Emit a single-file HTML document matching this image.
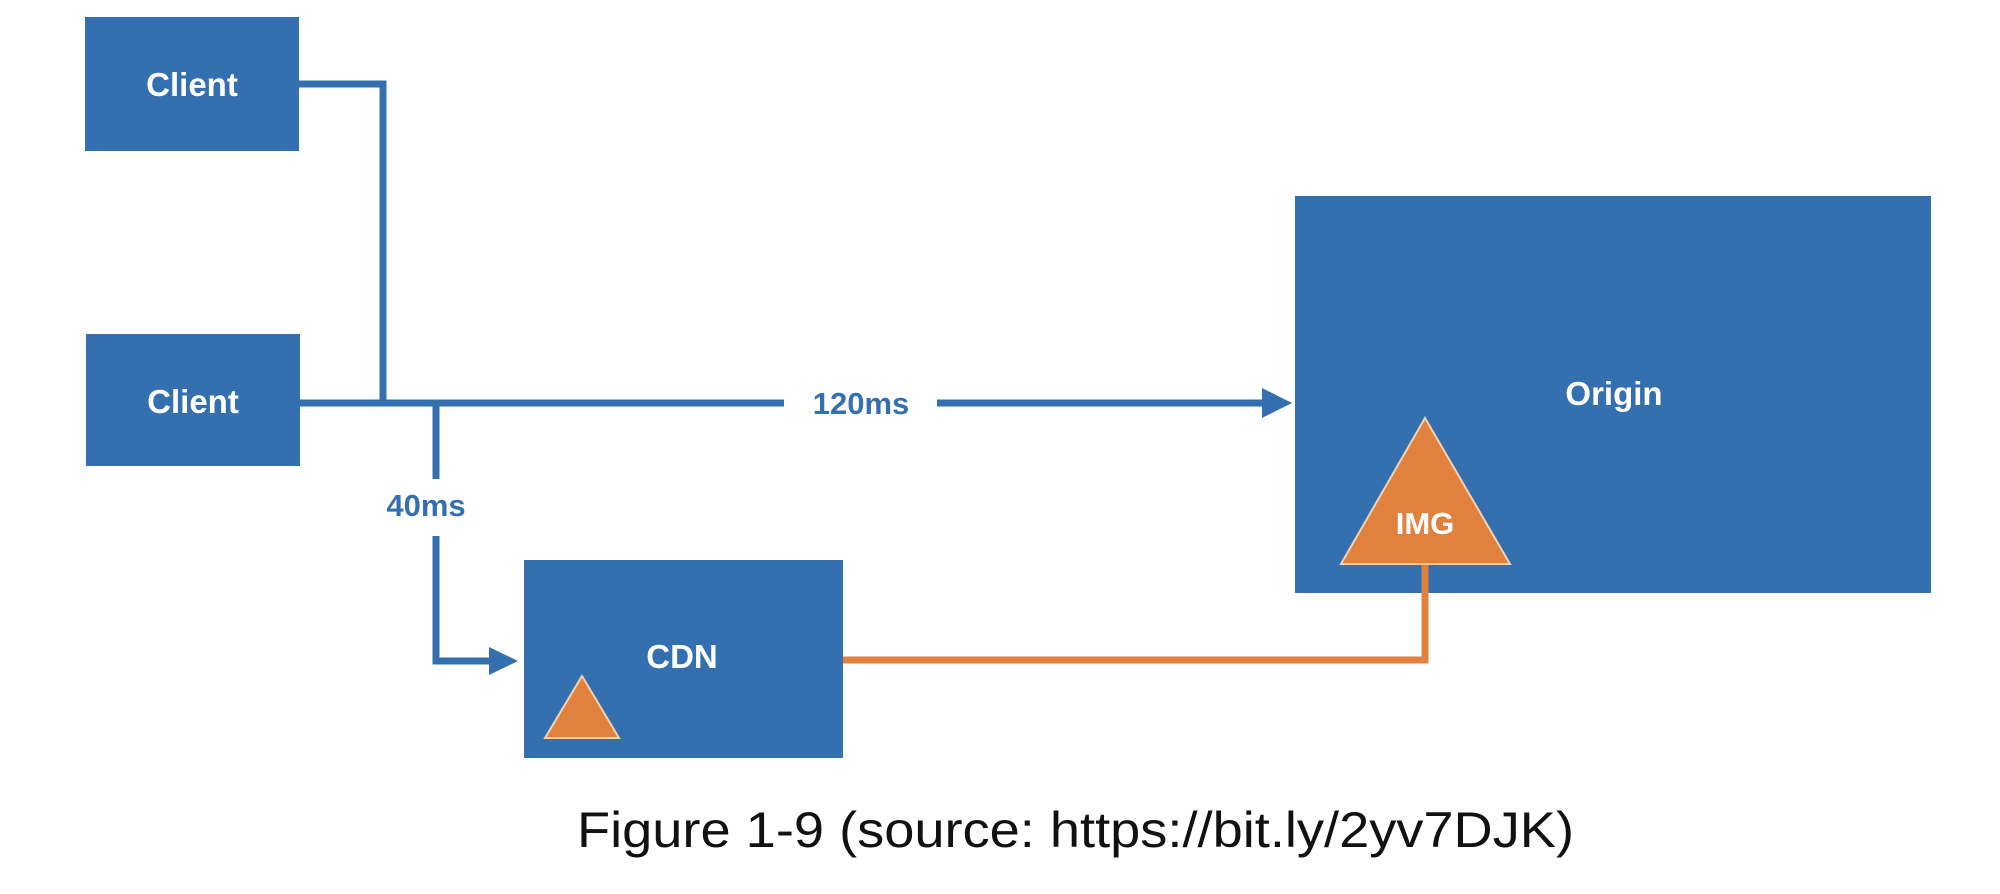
<!DOCTYPE html>
<html><head><meta charset="utf-8"><style>html,body{margin:0;padding:0;background:#fff;}svg{display:block}</style></head>
<body>
<svg width="2000" height="894" viewBox="0 0 2000 894" xmlns="http://www.w3.org/2000/svg">
<g fill="#3470b0">
<rect x="85" y="17" width="214" height="134"/>
<rect x="86" y="334" width="214" height="132"/>
<rect x="524" y="560" width="319" height="198"/>
<rect x="1295" y="196" width="636" height="397"/>
</g>
<g stroke="#3470b0" stroke-width="7" fill="none">
<polyline points="299,84 383,84 383,403"/>
<line x1="300" y1="403" x2="784" y2="403"/>
<line x1="937" y1="403" x2="1262" y2="403"/>
<line x1="436" y1="403" x2="436" y2="479"/>
<polyline points="436,536 436,661 492,661"/>
</g>
<polygon points="1262,388 1292,403 1262,418" fill="#3470b0"/>
<polygon points="489,647 518,661 489,675" fill="#3470b0"/>
<polyline points="843,660 1425,660 1425,560" stroke="#e0823e" stroke-width="7" fill="none"/>
<polygon points="1425,418 1510,564 1341,564" fill="#e0823e" stroke="#f3d0b0" stroke-width="2"/>
<polygon points="582,676 619,738 545,738" fill="#e0823e" stroke="#f3d0b0" stroke-width="2"/>
<g font-family="Liberation Sans, sans-serif" font-weight="bold" fill="#fff" font-size="33" text-anchor="middle">
<text x="192" y="96">Client</text>
<text x="193" y="413">Client</text>
<text x="682" y="668">CDN</text>
<text x="1614" y="405">Origin</text>
<text x="1425" y="534" font-size="31">IMG</text>
</g>
<g font-family="Liberation Sans, sans-serif" font-weight="bold" fill="#3470b0" font-size="31" text-anchor="middle">
<text x="861" y="414">120ms</text>
<text x="426" y="516">40ms</text>
</g>
<text x="577" y="847" font-family="Liberation Sans, sans-serif" font-size="50" fill="#111" textLength="997" lengthAdjust="spacingAndGlyphs">Figure 1-9 (source: https://bit.ly/2yv7DJK)</text>
</svg>
</body></html>
